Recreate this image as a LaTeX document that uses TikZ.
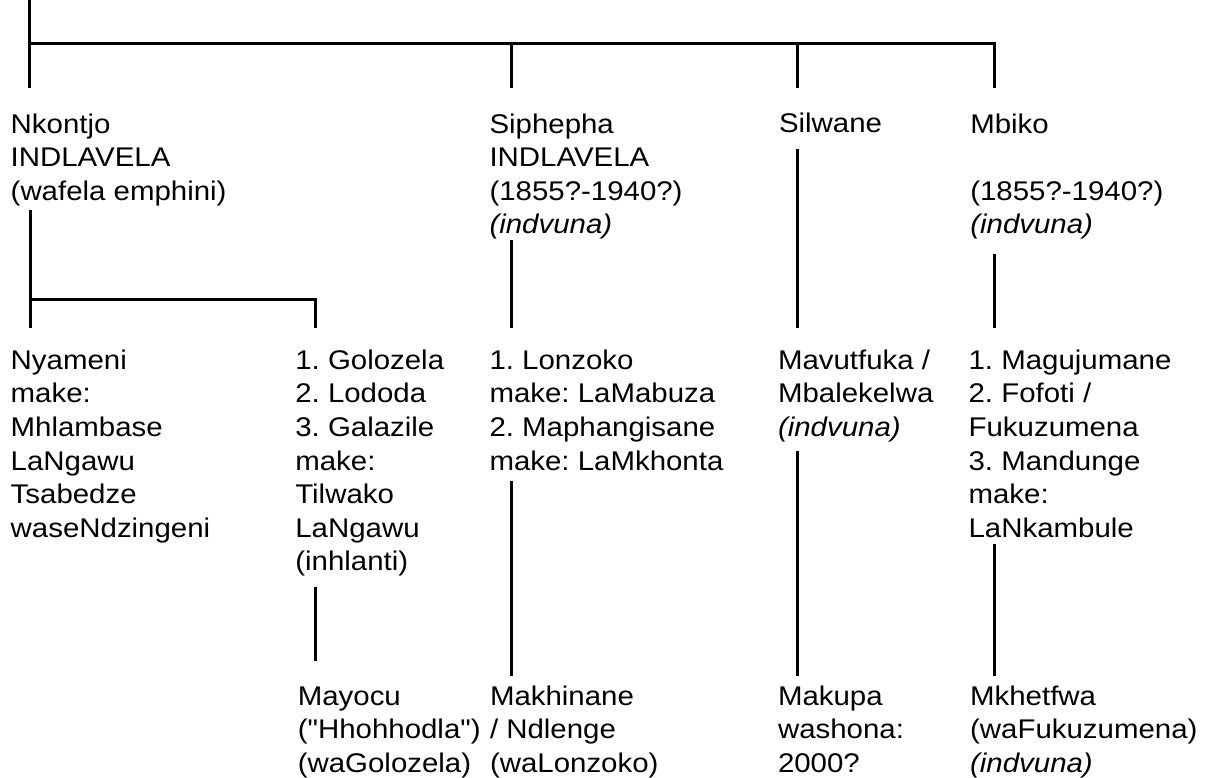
\documentclass[tikz,border=0pt]{standalone}
\usepackage{fontspec}
\setmainfont{Liberation Sans}[FakeStretch=1.09, Ligatures=TeXOff]
\begin{document}
\begin{tikzpicture}[x=1pt,y=-1pt,
  person/.style={anchor=base west, inner sep=0pt, outer sep=0pt, align=left,
    font=\fontsize{27}{33.6}\selectfont\frenchspacing},
  link/.style={line width=3pt, line cap=butt, line join=miter, black}]
\useasboundingbox (0,0) rectangle (1206,778);
\fill[white] (0,0) rectangle (1206,778);

% generation 1 (anchored at the baseline of the last line)
\node[person] (nkontjo)  at (10.7,200.2)  {Nkontjo\\INDLAVELA\\(wafela emphini)};
\node[person] (siphepha) at (489.5,233.8) {Siphepha\\INDLAVELA\\(1855?-1940?)\\\textit{(indvuna)}};
\node[person] (silwane)  at (779,133)     {Silwane};
\node[person] (mbiko)    at (970.3,233.8) {Mbiko\\\mbox{}\\(1855?-1940?)\\\textit{(indvuna)}};

% generation 2
\node[person] (nyameni)    at (10.7,537.3)  {Nyameni\\make:\\Mhlambase\\LaNgawu\\Tsabedze\\waseNdzingeni};
\node[person] (golozela)   at (295.3,570.9) {1. Golozela\\2. Lododa\\3. Galazile\\make:\\Tilwako\\LaNgawu\\(inhlanti)};
\node[person] (lonzoko)    at (489.5,470.1) {1. Lonzoko\\make: LaMabuza\\2. Maphangisane\\make: LaMkhonta};
\node[person] (mavutfuka)  at (778,436.5)   {Mavutfuka /\\Mbalekelwa\\\textit{(indvuna)}};
\node[person] (magujumane) at (968.6,537.3) {1. Magujumane\\2. Fofoti /\\Fukuzumena\\3. Mandunge\\make:\\LaNkambule};

% generation 3
\node[person] (mayocu)    at (297.8,772.2) {Mayocu\\("Hhohhodla")\\(waGolozela)};
\node[person] (makhinane) at (490,772.2)   {Makhinane\\/ Ndlenge\\(waLonzoko)};
\node[person] (makupa)    at (778,772.2)   {Makupa\\washona:\\2000?};
\node[person] (mkhetfwa)  at (970.1,772.2) {Mkhetfwa\\(waFukuzumena)\\\textit{(indvuna)}};

% connector end points
\coordinate (root)          at (29.5,-3);
\coordinate (bar1)          at (29.5,44);
\coordinate (bar1end)       at (994,44);
\coordinate (in-nkontjo)    at (29.5,88);
\coordinate (in-siphepha)   at (511.7,88);
\coordinate (in-silwane)    at (797.8,88);
\coordinate (in-mbiko)      at (994,88);

\coordinate (out-nkontjo)   at (30,210);
\coordinate (bar2)          at (30,299);
\coordinate (in-nyameni)    at (30,328);
\coordinate (in-golozela)   at (315.5,328);

\coordinate (out-siphepha)  at (511.7,240);
\coordinate (in-lonzoko)    at (511.7,328);
\coordinate (out-silwane)   at (797.7,149);
\coordinate (in-mavutfuka)  at (797.7,328);
\coordinate (out-mbiko)     at (994,254);
\coordinate (in-magujumane) at (994,328);

\coordinate (out-golozela)  at (315.7,586.7);
\coordinate (in-mayocu)     at (315.7,660.7);
\coordinate (out-lonzoko)   at (511.7,480.7);
\coordinate (in-makhinane)  at (511.7,676);
\coordinate (out-mavutfuka) at (797.7,450.7);
\coordinate (in-makupa)     at (797.7,676);
\coordinate (out-magujumane) at (994,544);
\coordinate (in-mkhetfwa)   at (994,676);

% connectors
\draw[link] (root) -- (in-nkontjo);
\draw[link] (bar1) -- (bar1end) -- (in-mbiko);
\draw[link] (in-siphepha |- bar1) -- (in-siphepha);
\draw[link] (in-silwane |- bar1) -- (in-silwane);

\draw[link] (out-nkontjo) -- (in-nyameni);
\draw[link] (bar2) -- (in-golozela |- bar2) -- (in-golozela);
\draw[link] (out-siphepha) -- (in-lonzoko);
\draw[link] (out-silwane) -- (in-mavutfuka);
\draw[link] (out-mbiko) -- (in-magujumane);

\draw[link] (out-golozela) -- (in-mayocu);
\draw[link] (out-lonzoko) -- (in-makhinane);
\draw[link] (out-mavutfuka) -- (in-makupa);
\draw[link] (out-magujumane) -- (in-mkhetfwa);
\end{tikzpicture}
\end{document}
